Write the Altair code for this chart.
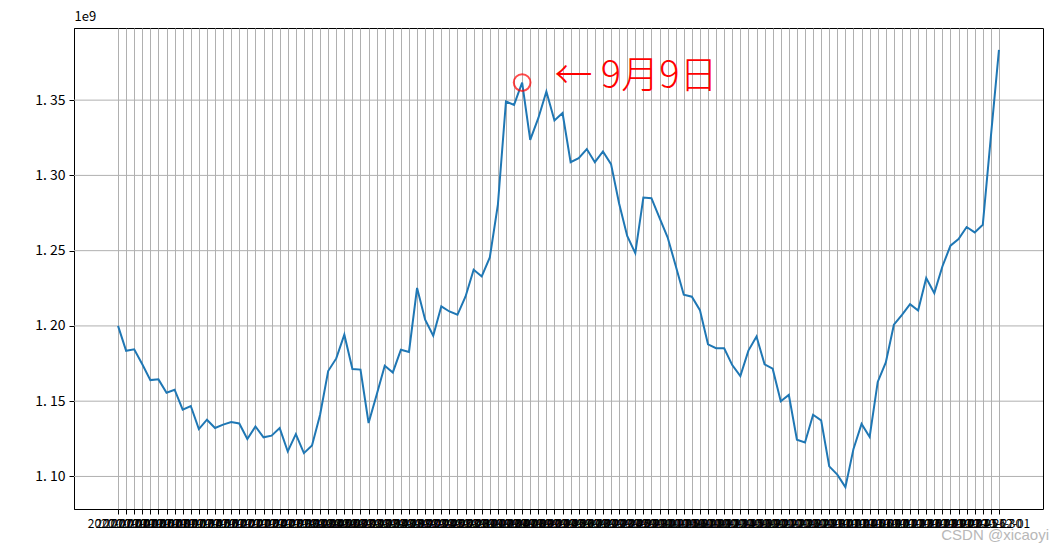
import altair as alt
import pandas as pd

# y values in units of 1e9
values_e9 = [
    1.200, 1.1835, 1.1845, 1.1745, 1.164, 1.1645, 1.1556, 1.1576, 1.1444, 1.1468,
    1.1315, 1.1377, 1.1322, 1.1344, 1.1362, 1.1352, 1.1249, 1.1332, 1.126, 1.1271,
    1.1321, 1.1166, 1.1281, 1.1155, 1.1206, 1.141, 1.170, 1.1784, 1.1942, 1.1714,
    1.171, 1.1355, 1.1543, 1.1736, 1.1691, 1.1842, 1.1827, 1.2252, 1.2041, 1.1935,
    1.213, 1.2096, 1.2074, 1.2196, 1.2373, 1.2329, 1.2455, 1.2805, 1.3491, 1.3469,
    1.3617, 1.3236, 1.338, 1.3557, 1.3365, 1.3414, 1.3088, 1.3115, 1.3175, 1.3088,
    1.3159, 1.3075, 1.2813, 1.2598, 1.2484, 1.2853, 1.2849, 1.2718, 1.2589, 1.240,
    1.2207, 1.2194, 1.2105, 1.1878, 1.1852, 1.1852, 1.174, 1.1667, 1.1836, 1.193,
    1.1745, 1.1716, 1.150, 1.1542, 1.1244, 1.1226, 1.141, 1.1373, 1.1067, 1.1012,
    1.0929, 1.1183, 1.1349, 1.1262, 1.1628, 1.1758, 1.2008, 1.2074, 1.2145, 1.2103,
    1.2318, 1.2218, 1.2395, 1.2533, 1.2577, 1.2657, 1.2621, 1.2672, 1.3258, 1.3834,
]
values = [v * 1e9 for v in values_e9]

# category labels (trading dates, unreadable in the original because they overlap)
dates = [d.strftime("%Y-%m-%d") for d in pd.bdate_range("2020-07-01", periods=len(values))]

y_ticks = [1.10e9, 1.15e9, 1.20e9, 1.25e9, 1.30e9, 1.35e9]
y_domain = [1.078375e9, 1.397925e9]

W, H = 969, 481
# matplotlib-style 5% margins on each side of the category positions
edge = W * 0.05 / 1.1
x_range = [edge, W - edge]

peak_index = 50
note_index = 54
note_value = 1.3655e9
note_text = "← 9月9日"
watermark = "CSDN @xicaoyi"

df = pd.DataFrame({"date": dates, "value": values})
grid_df = pd.DataFrame({"value": y_ticks})
peak_df = pd.DataFrame({"date": [dates[peak_index]], "value": [values[peak_index]]})
note_df = pd.DataFrame({"date": [dates[note_index]], "value": [note_value], "t": [note_text]})
wm_df = pd.DataFrame({"t": [watermark]})

FONT = "Noto Sans CJK SC"
GRID = "#b0b0b0"

x_scale = alt.Scale(type="point", domain=dates, range=x_range, padding=0)
y_scale = alt.Scale(domain=y_domain, nice=False, zero=False)

x_enc = alt.X(
    "date:N", sort=None, title=None, scale=x_scale,
    axis=alt.Axis(labelAngle=0, labelOverlap=False, grid=True, labelFont=FONT,
                  labelFontSize=12, labelPadding=4, tickSize=5),
)
y_enc = alt.Y(
    "value:Q", title="1e9", scale=y_scale,
    axis=alt.Axis(values=y_ticks, grid=False, tickSize=5, labelPadding=4,
                  labelFont=FONT, labelFontSize=14,
                  labelExpr="replace(format(datum.value / 1e9, '.2f'), '.', '. ')",
                  titleAngle=0, titleX=0, titleY=-5, titleAlign="left",
                  titleBaseline="bottom", titleFontWeight="normal",
                  titleFont=FONT, titleFontSize=13),
)

# horizontal grid lines across the whole plot width
hgrid = alt.Chart(grid_df).mark_rule(color=GRID, strokeWidth=1).encode(
    y=alt.Y("value:Q", scale=y_scale), x=alt.value(0), x2=alt.value(W)
)

line = alt.Chart(df).mark_line(color="#1f77b4", strokeWidth=2).encode(x=x_enc, y=y_enc)

peak = alt.Chart(peak_df).mark_point(
    shape="circle", filled=False, color="red", size=280, strokeWidth=2
).encode(x=alt.X("date:N", sort=None), y="value:Q")

note = alt.Chart(note_df).mark_text(
    color="red", fontSize=38, align="left", baseline="middle", font=FONT, fontWeight=300
).encode(x=alt.X("date:N", sort=None), y="value:Q", text="t:N")

wm = alt.Chart(wm_df).mark_text(
    color="#b8b8b8", fontSize=15, align="right", baseline="middle", font="Liberation Sans"
).encode(x=alt.value(975), y=alt.value(507), text="t:N")

chart = (
    alt.layer(hgrid, line, peak, note, wm)
    .properties(
        width=W, height=H,
        autosize=alt.AutoSizeParams(type="none"),
        padding={"left": 66, "top": 20, "right": 13, "bottom": 40},
    )
    .configure_view(stroke="black", strokeWidth=1)
    .configure_axis(
        domainColor="black", tickColor="black", labelColor="black", titleColor="black",
        gridColor=GRID, gridWidth=1, domainWidth=1,
    )
)

chart.save("out.html", embed_options={"renderer": "svg", "actions": False})
